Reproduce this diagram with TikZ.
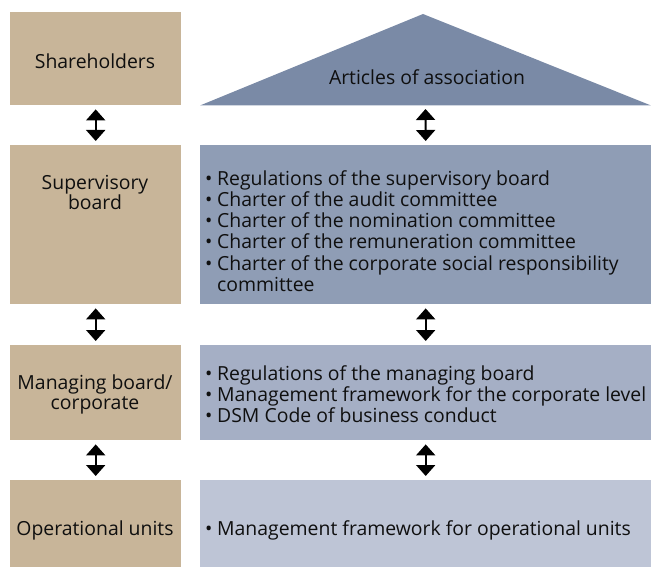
\documentclass[tikz,border=0pt]{standalone}
\usepackage{fontspec}
\setmainfont{Open Sans}
\usetikzlibrary{arrows.meta}
\definecolor{tanc}{RGB}{200,181,153}
\definecolor{tric}{RGB}{122,138,166}
\definecolor{svc}{RGB}{143,157,181}
\definecolor{mgc}{RGB}{165,175,197}
\definecolor{opc}{RGB}{190,197,214}
\definecolor{txt}{RGB}{15,15,15}
\newcommand{\bul}{\makebox[12pt][l]{\raisebox{0pt}{•}}}
\newcommand{\ind}{\hspace*{12pt}}
\begin{document}
\begin{tikzpicture}[x=1pt,y=-1pt,
  box/.style={inner sep=0pt, anchor=north west},
  lbl/.style={text=txt, font=\fontsize{19.4}{20}\selectfont, align=center, inner sep=0pt},
  lst/.style={text=txt, font=\fontsize{19.4}{21.2}\selectfont, align=left, inner sep=0pt, anchor=west},
  darr/.style={{Triangle[width=19pt,length=11pt]}-{Triangle[width=19pt,length=11pt]}, line width=2pt, black, shorten <=4pt, shorten >=4pt}]
\useasboundingbox (0,0) rectangle (651,567);
% left column
\node[box, fill=tanc, minimum width=171pt, minimum height=93pt] (sh) at (10,12) {};
\node[box, fill=tanc, minimum width=171pt, minimum height=159pt] (sv) at (10,145) {};
\node[box, fill=tanc, minimum width=171pt, minimum height=95pt] (mg) at (10,345) {};
\node[box, fill=tanc, minimum width=171pt, minimum height=87pt] (op) at (10,480) {};
% right column
\fill[tric] (200,105.5) -- (423,14) -- (651,105.5) -- cycle;
\coordinate (tri) at (425.5,105);
\node[box, fill=svc, minimum width=451pt, minimum height=159pt] (svr) at (200,145) {};
\node[box, fill=mgc, minimum width=451pt, minimum height=95pt] (mgr) at (200,345) {};
\node[box, fill=opc, minimum width=451pt, minimum height=87pt] (opr) at (200,480) {};
% labels
\node[lbl] (tsh) at (95,61) {Shareholders};
\node[lbl] (tsv) at (95,192) {Supervisory\\board};
\node[lbl] (tmg) at (95,394) {Managing board/\\corporate};
\node[lbl] (top) at (95,530) {Operational units};
\node[lbl] (tart) at (427,77) {Articles of association};
\node[lst] (lsv) at (205,231) {\bul Regulations of the supervisory board\\
\bul Charter of the audit committee\\
\bul Charter of the nomination committee\\
\bul Charter of the remuneration committee\\
\bul Charter of the corporate social responsibility\\
\ind committee};
\node[lst] (lmg) at (205,394) {\bul Regulations of the managing board\\
\bul Management framework for the corporate level\\
\bul DSM Code of business conduct};
\node[lst] (lop) at (205,530) {\bul Management framework for operational units};
% arrows
\draw[darr] (sh.south) -- (sv.north);
\draw[darr] (sv.south) -- (mg.north);
\draw[darr] (mg.south) -- (op.north);
\draw[darr] (tri) -- (svr.north);
\draw[darr] (svr.south) -- (mgr.north);
\draw[darr] (mgr.south) -- (opr.north);
\end{tikzpicture}
\end{document}
